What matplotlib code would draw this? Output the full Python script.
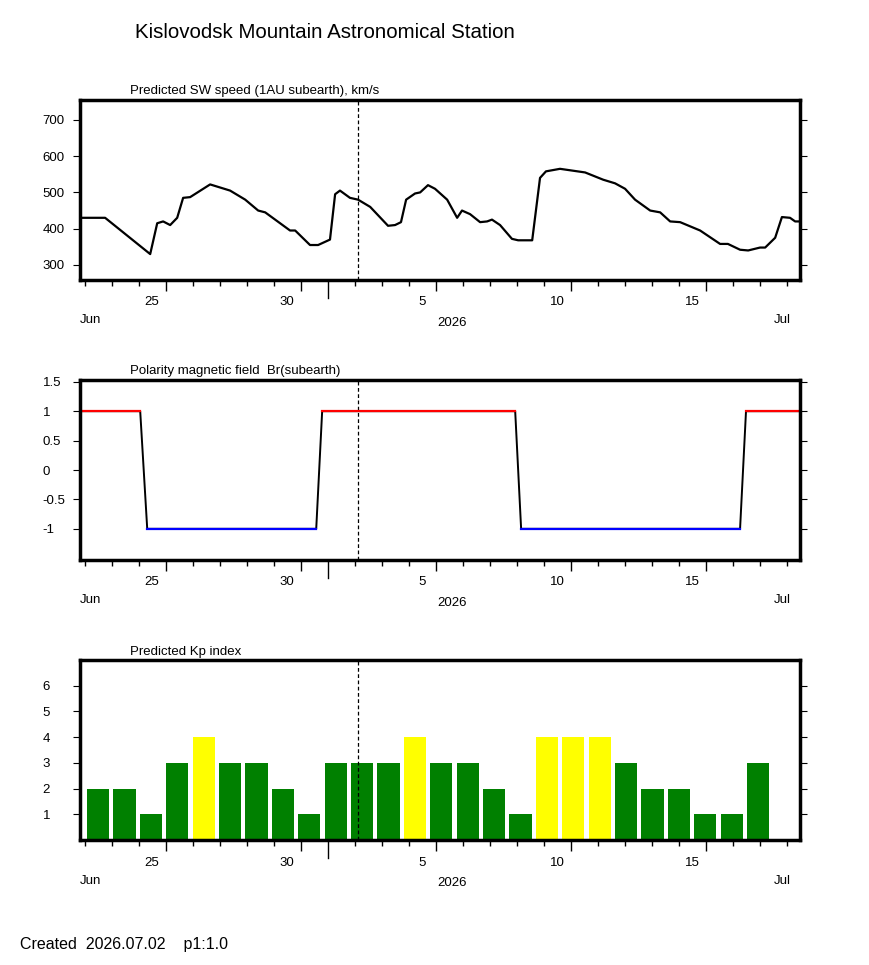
import matplotlib
matplotlib.use("Agg")
import matplotlib.pyplot as plt
import matplotlib.transforms as mtransforms

plt.rcParams['font.family'] = ['Liberation Sans', 'DejaVu Sans']

# days since 2026-06-22 00:00
sw_days = [-0.19, 0.74, 2.41, 2.67, 2.89, 3.15, 3.41, 3.63, 3.89, 4.63, 5.37, 5.93, 6.41, 6.67,
           7.59, 7.78, 8.33, 8.63, 9.07, 9.26, 9.44, 9.81, 10.11, 10.56, 11.22, 11.48, 11.70,
           11.89, 12.22, 12.41, 12.70, 12.96, 13.41, 13.78, 13.96, 14.26, 14.63, 14.89, 15.07,
           15.37, 15.81, 16.04, 16.56, 16.85, 17.07, 17.59, 18.52, 19.19, 19.63, 20.0, 20.37,
           20.93, 21.30, 21.67, 22.04, 22.78, 23.52, 23.81, 24.26, 24.56, 25.0, 25.19, 25.56,
           25.81, 26.11, 26.30, 26.48]
sw_speed = [430, 430, 330, 415, 420, 410, 430, 485, 487, 522, 505, 480, 450, 445,
            395, 395, 355, 355, 370, 495, 505, 485, 480, 460, 408, 410, 418,
            480, 497, 500, 520, 510, 480, 430, 450, 440, 418, 420, 425,
            410, 372, 368, 368, 540, 558, 565, 555, 535, 525, 510, 480,
            450, 445, 420, 418, 395, 358, 358, 342, 340, 348, 348, 375,
            432, 430, 420, 420]

br_days = [-0.19, 2.04, 2.30, 8.56, 8.78, 15.93, 16.15, 24.26, 24.48, 26.48]
br_vals = [1, 1, -1, -1, 1, 1, -1, -1, 1, 1]

kp = [2, 2, 1, 3, 4, 3, 3, 2, 1, 3, 3, 3, 4, 3, 3, 2, 1, 4, 4, 4, 3, 2, 2, 1, 1, 3]

now_day = 10.11
xmin, xmax = -0.19, 26.48
day_labels = {3: '25', 8: '30', 13: '5', 18: '10', 23: '15'}
month_tick = 9

fig = plt.figure(figsize=(8.7, 9.65), dpi=100)
fig.text(135 / 870, 1 - 32 / 965, 'Kislovodsk Mountain Astronomical Station', fontsize=14.8, va='center')
fig.text(20 / 870, 1 - 944 / 965, 'Created  2026.07.02    p1:1.0', fontsize=11.5, va='center')


def setup(ax, title, yticks, ylabels, ylim):
    ax.set_xlim(xmin, xmax)
    ax.set_ylim(*ylim)
    for s in ax.spines.values():
        s.set_linewidth(2.5)
    ax.set_yticks(yticks)
    ax.set_yticklabels(ylabels)
    ax.tick_params(axis='y', which='both', left=True, right=True, direction='out', length=5,
                   labelsize=9.5, pad=22)
    for lab in ax.get_yticklabels():
        lab.set_horizontalalignment('left')
    ax.set_xticks([d for d in range(0, 27) if d not in day_labels and d != month_tick], minor=True)
    ax.set_xticks(list(day_labels.keys()))
    ax.set_xticklabels([])
    ax.tick_params(axis='x', which='major', length=8, width=1)
    ax.tick_params(axis='x', which='minor', length=4, width=1)
    ax.set_title(title, loc='left', fontsize=9.5, x=50 / 720, pad=4)
    trans = mtransforms.blended_transform_factory(ax.transData, ax.transAxes)
    ax.plot([month_tick, month_tick], [0, -0.1], color='black', lw=1, transform=trans, clip_on=False)
    off = mtransforms.ScaledTranslation(-14 / 100, 0, fig.dpi_scale_trans)
    for d, t in day_labels.items():
        ax.text(d, -0.125, t, transform=trans + off, ha='center', va='center', fontsize=9.5)
    ax.text(0, -0.225, 'Jun', transform=ax.transAxes, ha='left', va='center', fontsize=9.5)
    ax.text(0.517, -0.24, '2026', transform=ax.transAxes, ha='center', va='center', fontsize=9.5)
    ax.text(0.975, -0.225, 'Jul', transform=ax.transAxes, ha='center', va='center', fontsize=9.5)
    ax.axvline(now_day, color='black', lw=0.9, ls=(0, (3, 2)))


ax1 = fig.add_axes([80 / 870, 0.710, 720 / 870, 0.1865])
setup(ax1, 'Predicted SW speed (1AU subearth), km/s', [300, 400, 500, 600, 700],
      ['300', '400', '500', '600', '700'], (259, 755))
ax1.plot(sw_days, sw_speed, color='black', lw=1.6)

ax2 = fig.add_axes([80 / 870, 0.4197, 720 / 870, 0.1865])
setup(ax2, 'Polarity magnetic field  Br(subearth)', [-1, -0.5, 0, 0.5, 1, 1.5],
      ['-1', '-0.5', '0', '0.5', '1', '1.5'], (-1.53, 1.53))
ax2.plot(br_days, br_vals, color='black', lw=1.4)
for i in range(len(br_days) - 1):
    if br_vals[i] == br_vals[i + 1]:
        ax2.plot(br_days[i:i + 2], br_vals[i:i + 2], color='red' if br_vals[i] > 0 else 'blue', lw=1.6)

ax3 = fig.add_axes([80 / 870, 0.1295, 720 / 870, 0.1865])
setup(ax3, 'Predicted Kp index', [1, 2, 3, 4, 5, 6], ['1', '2', '3', '4', '5', '6'], (0, 7))
centers = [0.48 + i * 0.978 for i in range(len(kp))]
colors = ['yellow' if v >= 4 else 'green' for v in kp]
ax3.bar(centers, kp, width=0.82, color=colors, zorder=0)

fig.savefig('out.png', dpi=100)
